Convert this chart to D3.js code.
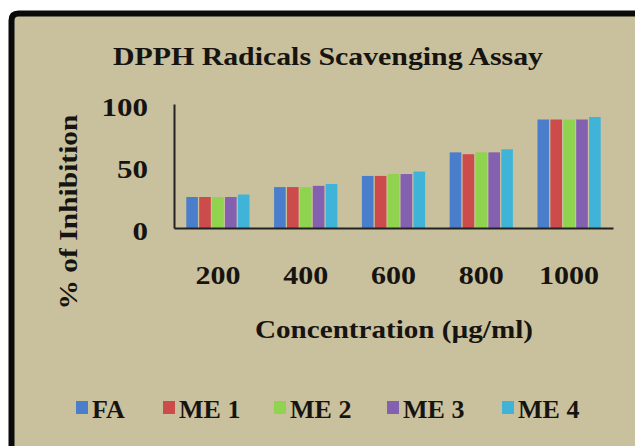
<!DOCTYPE html>
<html>
<head>
<meta charset="utf-8">
<script src="https://cdn.jsdelivr.net/npm/d3@7"></script>
<style>
  html, body { margin: 0; padding: 0; background: #fff; overflow: hidden; }
  svg { display: block; }
  svg text { font-family: "Liberation Serif", "Times New Roman", serif; font-weight: bold; fill: #161410; }
</style>
</head>
<body>
<svg id="chart" width="635" height="446"></svg>
<script>
// chart data
var concentrations = ['200', '400', '600', '800', '1000'];
var seriesNames = ['FA', 'ME 1', 'ME 2', 'ME 3', 'ME 4'];
var valuesFA  = [25, 33, 42, 61, 87.5];
var valuesME1 = [25, 33, 42, 59.5, 87.5];
var valuesME2 = [25, 33, 43.5, 61, 87.5];
var valuesME3 = [25, 34, 43.5, 61, 87.5];
var valuesME4 = [27, 35.5, 45.5, 63.5, 89.5];
var yTicks = [0, 50, 100];

var seriesColors = ['#4a7ecb', '#cc4b4b', '#8fd34f', '#8360b0', '#3fb4d8'];
var allSeries = [valuesFA, valuesME1, valuesME2, valuesME3, valuesME4];

var svg = d3.select('#chart');
var W = 635, H = 446;

// beige panel, then the thick black frame on top/left only (rest is cropped)
svg.append('rect')
	.attr('x', 11.5).attr('y', 13.5)
	.attr('width', W).attr('height', H)
	.attr('fill', '#c9c09e');
svg.append('path')
	.attr('d', 'M 11.5 ' + H + ' L 11.5 20.5 Q 11.5 13.5 18.5 13.5 L ' + W + ' 13.5')
	.attr('fill', 'none')
	.attr('stroke', '#0a0a0a').attr('stroke-width', 6);

// plot area
var plot = {left: 174, right: 613, top: 104, bottom: 228};

var x0 = d3.scaleBand()
	.domain(concentrations)
	.range([plot.left, plot.right])
	.paddingInner(0.28).paddingOuter(0.14);

var x1 = d3.scaleBand()
	.domain(seriesNames)
	.range([0, x0.bandwidth()])
	.paddingInner(0.1);

var y = d3.scaleLinear().domain([0, 100]).range([plot.bottom, plot.top]);

// text is a bit stretched in the original, so fit widths
svg.append('text')
	.attr('x', 328).attr('y', 65)
	.attr('text-anchor', 'middle')
	.attr('textLength', 430).attr('lengthAdjust', 'spacingAndGlyphs')
	.style('font-size', '26px')
	.text('DPPH Radicals Scavenging Assay');

// bars
var groups = svg.selectAll('g.grp')
	.data(concentrations)
	.enter().append('g')
	.attr('class', 'grp')
	.attr('transform', function(d){ return 'translate(' + x0(d) + ',0)'; });

groups.selectAll('rect')
	.data(function(d, i){
		return seriesNames.map(function(s, j){ return {name: s, value: allSeries[j][i], k: j}; });
	})
	.enter().append('rect')
	.attr('x', function(d){ return x1(d.name); })
	.attr('y', function(d){ return y(d.value); })
	.attr('width', x1.bandwidth())
	.attr('height', function(d){ return y(0) - y(d.value); })
	.attr('fill', function(d){ return seriesColors[d.k]; });

// y axis
var yAxis = svg.append('g')
	.attr('transform', 'translate(' + plot.left + ',0)')
	.call(d3.axisLeft(y).tickValues(yTicks).tickSize(0).tickPadding(26));
yAxis.select('.domain').attr('stroke', '#222').attr('stroke-width', 2);
yAxis.selectAll('text')
	.style('font-size', '26px').attr('dy', '0.45em')
	.attr('textLength', function(d){ return String(d).length * 15.5; })
	.attr('lengthAdjust', 'spacingAndGlyphs');

// x axis
var xAxis = svg.append('g')
	.attr('transform', 'translate(0,' + plot.bottom + ')')
	.call(d3.axisBottom(x0).tickSize(0).tickPadding(38));
xAxis.select('.domain').attr('stroke', '#222').attr('stroke-width', 2);
xAxis.selectAll('text')
	.style('font-size', '26px')
	.attr('textLength', function(d){ return d.length * 15; })
	.attr('lengthAdjust', 'spacingAndGlyphs');

svg.append('text')
	.attr('transform', 'translate(68,212) rotate(-90)')
	.attr('text-anchor', 'middle')
	.attr('dy', '0.35em')
	.attr('textLength', 195).attr('lengthAdjust', 'spacingAndGlyphs')
	.style('font-size', '25px')
	.text('% of Inhibition');

svg.append('text')
	.attr('x', 394).attr('y', 338)
	.attr('text-anchor', 'middle')
	.attr('textLength', 278).attr('lengthAdjust', 'spacingAndGlyphs')
	.style('font-size', '25px')
	.text('Concentration (\u00b5g/ml)');

// legend
var legendX = [76, 163, 274, 387, 502];
var legend = svg.selectAll('g.leg')
	.data(seriesNames)
	.enter().append('g')
	.attr('class', 'leg')
	.attr('transform', function(d, i){ return 'translate(' + legendX[i] + ',408)'; });
legend.append('rect')
	.attr('x', 0).attr('y', -7).attr('width', 12).attr('height', 13)
	.attr('fill', function(d, i){ return seriesColors[i]; });
legend.append('text')
	.attr('x', 16).attr('dy', '0.38em')
	.style('font-size', '26px')
	.text(function(d){ return d; });
</script>
</body>
</html>
